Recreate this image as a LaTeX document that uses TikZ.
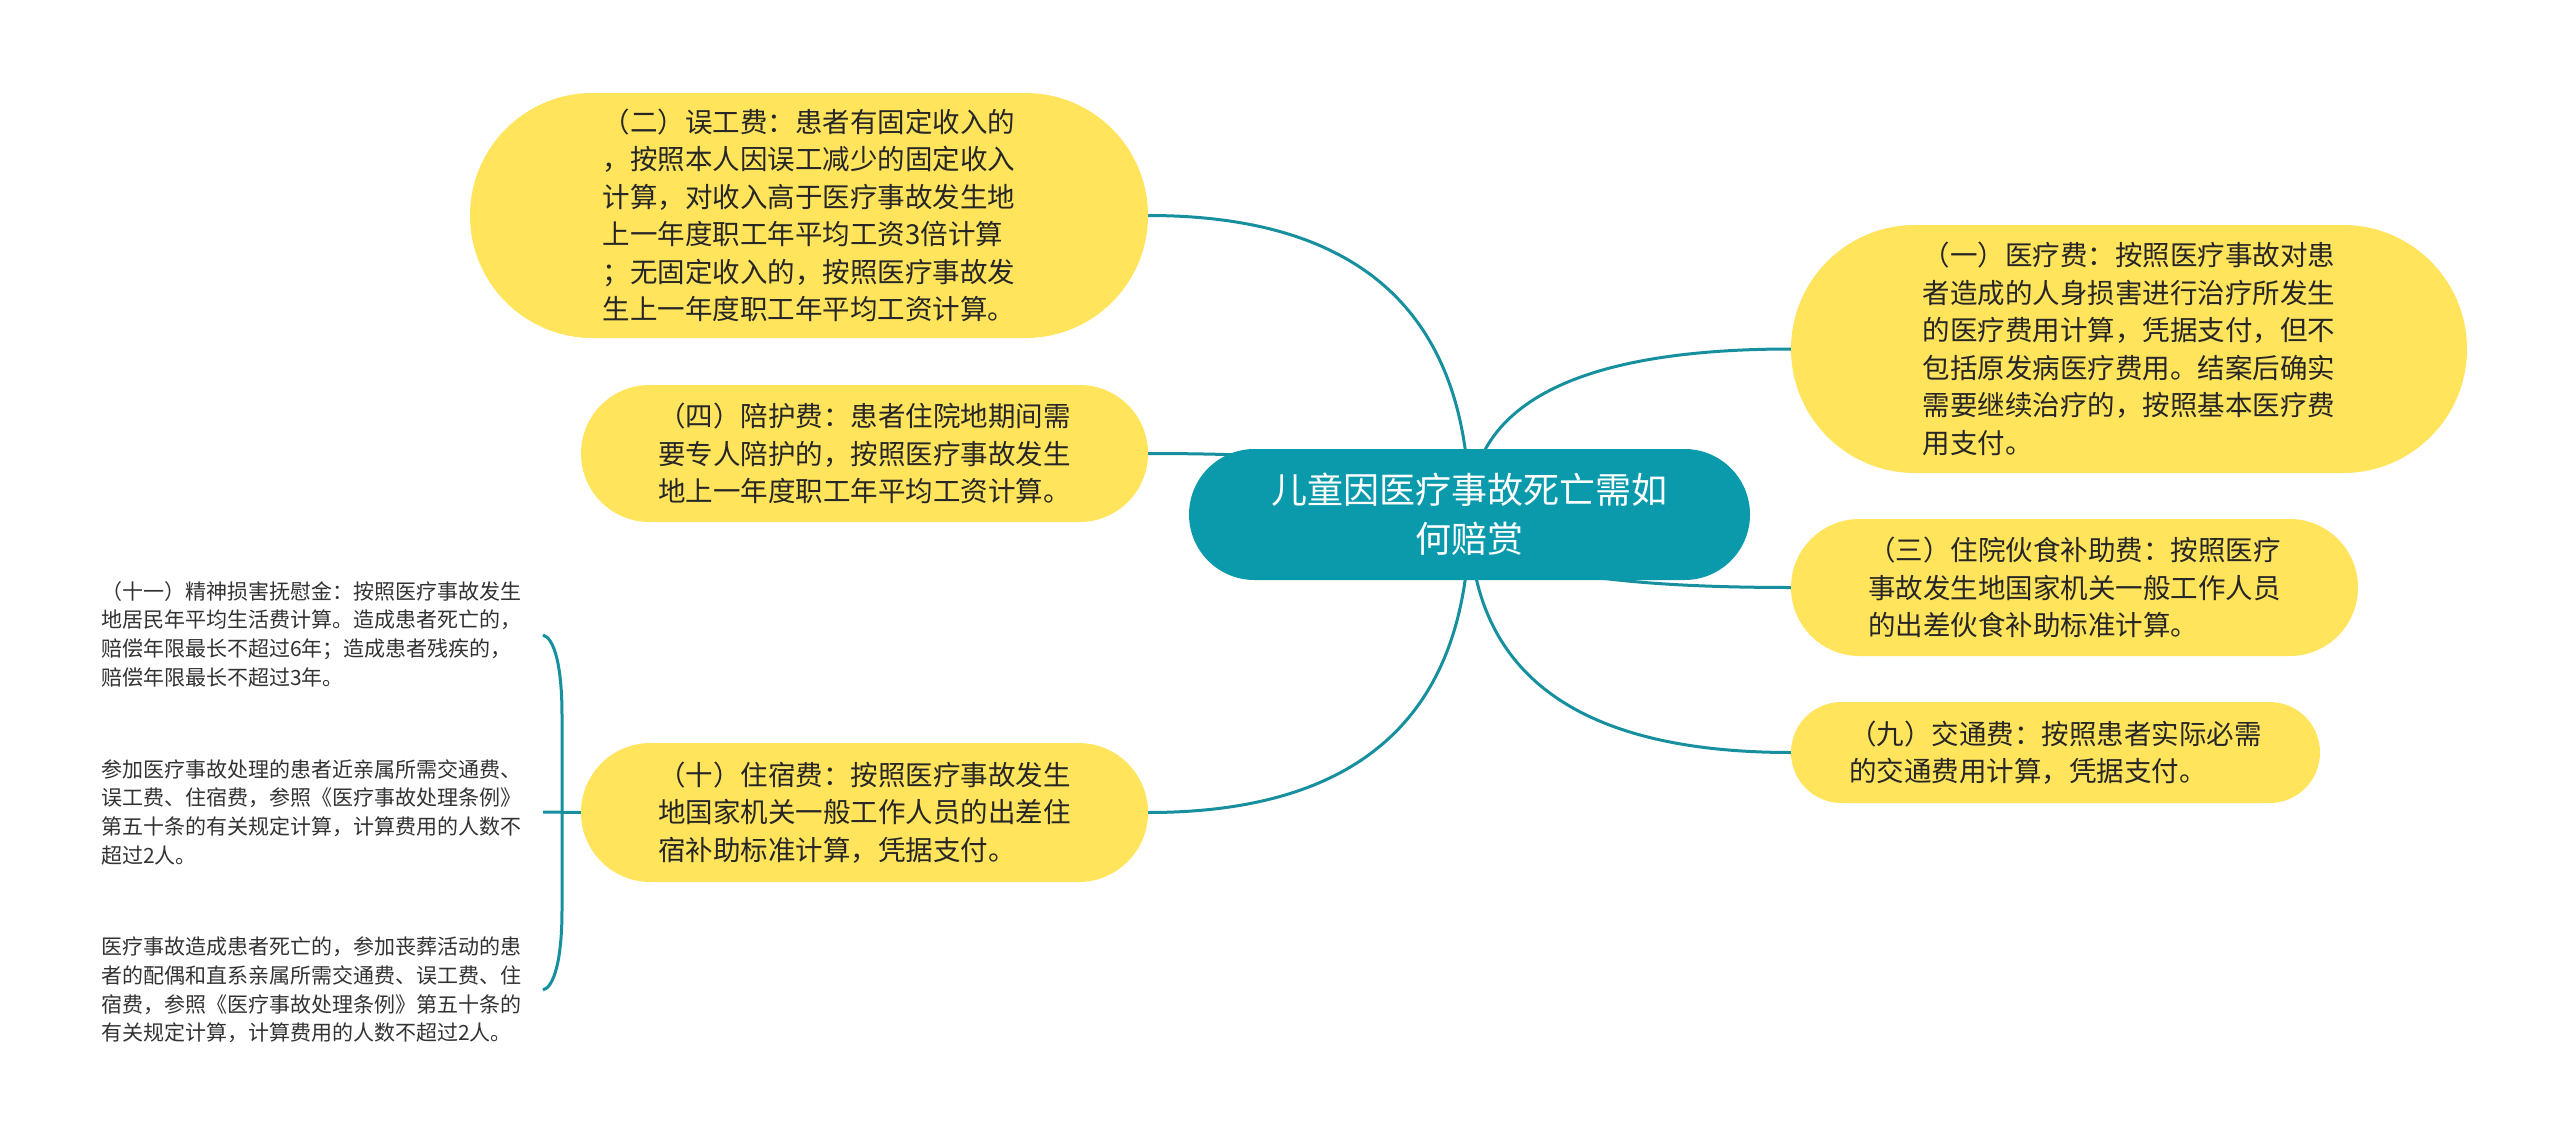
\documentclass[tikz,border=0pt]{standalone}
\usepackage{fontspec}
\setmainfont{Noto Sans CJK SC}
\usetikzlibrary{shapes.misc,calc,backgrounds}
\definecolor{tealc}{HTML}{0A9AAC}
\definecolor{linec}{HTML}{16909F}
\definecolor{yelc}{HTML}{FFE45C}
\definecolor{txtc}{HTML}{262626}
\definecolor{ltxtc}{HTML}{333333}
\tikzset{
  yelnode/.style={rounded rectangle, fill=yelc, text=txtc, inner sep=0pt, align=left,
    font=\fontsize{27.5}{37.5}\selectfont},
  rootnode/.style={rounded rectangle, fill=tealc, text=white, inner sep=0pt, align=center,
    font=\fontsize{36}{49}\selectfont},
  leaf/.style={inner sep=0pt, align=left, text=ltxtc, anchor=west,
    font=\fontsize{21}{28.7}\selectfont},
  conn/.style={draw=linec, line width=3pt},
}
\begin{document}
\begin{tikzpicture}[x=1pt,y=-1pt]
\useasboundingbox (0,0) rectangle (2560,1148);

\node[rootnode, minimum width=561pt, minimum height=131pt] (root) at (1469.5,514.5)
  {儿童因医疗事故死亡需如\\何赔赏};

\node[yelnode, minimum width=678pt, minimum height=245pt] (n2) at (809,215.5)
  {（二）误工费：患者有固定收入的\\，按照本人因误工减少的固定收入\\计算，对收入高于医疗事故发生地\\上一年度职工年平均工资3倍计算\\；无固定收入的，按照医疗事故发\\生上一年度职工年平均工资计算。};
\node[yelnode, minimum width=567pt, minimum height=137pt] (n4) at (864.5,453.5)
  {（四）陪护费：患者住院地期间需\\要专人陪护的，按照医疗事故发生\\地上一年度职工年平均工资计算。};
\node[yelnode, minimum width=567pt, minimum height=139pt] (n10) at (864.5,812.5)
  {（十）住宿费：按照医疗事故发生\\地国家机关一般工作人员的出差住\\宿补助标准计算，凭据支付。};
\node[yelnode, minimum width=676pt, minimum height=248pt] (n1) at (2129,349)
  {（一）医疗费：按照医疗事故对患\\者造成的人身损害进行治疗所发生\\的医疗费用计算，凭据支付，但不\\包括原发病医疗费用。结案后确实\\需要继续治疗的，按照基本医疗费\\用支付。};
\node[yelnode, minimum width=567pt, minimum height=137pt] (n3) at (2074.5,587.5)
  {（三）住院伙食补助费：按照医疗\\事故发生地国家机关一般工作人员\\的出差伙食补助标准计算。};
\node[yelnode, minimum width=529pt, minimum height=101pt] (n9) at (2055.5,752.5)
  {（九）交通费：按照患者实际必需\\的交通费用计算，凭据支付。};

\node[leaf] (t1) at (101,634)
  {（十一）精神损害抚慰金：按照医疗事故发生\\地居民年平均生活费计算。造成患者死亡的，\\赔偿年限最长不超过6年；造成患者残疾的，\\赔偿年限最长不超过3年。};
\node[leaf] (t2) at (101,812)
  {参加医疗事故处理的患者近亲属所需交通费、\\误工费、住宿费，参照《医疗事故处理条例》\\第五十条的有关规定计算，计算费用的人数不\\超过2人。};
\node[leaf] (t3) at (101,990)
  {医疗事故造成患者死亡的，参加丧葬活动的患\\者的配偶和直系亲属所需交通费、误工费、住\\宿费，参照《医疗事故处理条例》第五十条的\\有关规定计算，计算费用的人数不超过2人。};

\coordinate (bTop) at (543,635);
\coordinate (bMid) at (543,812);
\coordinate (bBot) at (543,990);

\begin{pgfonlayer}{background}
\fill[white] (0,0) rectangle (2560,1148);
\foreach \n/\a in {n2/east,n4/east,n10/east,n1/west,n3/west,n9/west}{
  \coordinate (k) at (root.center|-\n.\a);
  \draw[conn] (root.center) .. controls ($(root.center)!0.667!(k)$) and ($(\n.\a)!0.667!(k)$) .. (\n.\a);
}
\end{pgfonlayer}
\draw[conn] (n10.west) -- (bMid);
\draw[conn] (bTop) .. controls (554,638) and (562,665) .. (562,715) -- (562,910)
  .. controls (562,960) and (554,987) .. (bBot);
\end{tikzpicture}
\end{document}
